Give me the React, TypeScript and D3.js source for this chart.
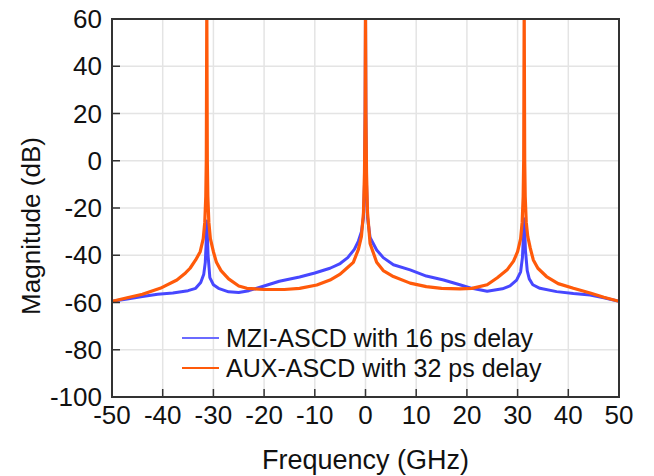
import React from "react";
import * as d3 from "d3";

// Frequency (GHz) / magnitude (dB)
const mziFreq = [-50, -47, -44, -41, -38, -35, -33.5, -32.5, -31.9, -31.6, -31.45, -31.35, -31.3, -31.2, -31.05, -30.7, -30, -29, -27, -25, -23, -20, -17, -13, -10, -7, -5, -3.5, -2.2, -1.4, -0.8, -0.4, -0.2, -0.08, 0, 0.08, 0.2, 0.4, 0.9, 2.2, 3.5, 5.5, 8.8, 12, 15.4, 18.6, 21, 24, 27, 28.5, 29.8, 30.6, 30.95, 31.15, 31.3, 31.4, 31.55, 31.9, 32.3, 33, 34.4, 37.7, 41, 44.3, 47, 50];
const mziMag = [-59.5, -58.5, -57.5, -56.5, -56, -55, -54, -51.5, -48, -43, -36, -29, -25.5, -31, -40, -49.5, -52.5, -54, -55.5, -55.8, -55, -53, -51, -49.2, -47.5, -45.5, -43.5, -41, -37.5, -34, -30, -24, -10, 20, 65, 20, -10, -24, -32.5, -37.8, -41, -44, -46.2, -48.8, -50.5, -52.5, -54, -55.2, -54.2, -53, -50.5, -47, -41, -32, -24.5, -29, -38, -46.5, -50, -52.5, -54, -55.4, -56.2, -56.8, -58, -59.5];

const auxFreq = [-50, -47, -44, -40.5, -37.2, -35.5, -34.6, -33.5, -32.6, -32, -31.7, -31.5, -31.4, -31.3, -31.2, -31.1, -30.9, -30.6, -30, -29.4, -28.5, -27, -25, -23.4, -20, -16, -13, -9.6, -7, -5, -3.7, -2.4, -1.4, -0.8, -0.4, -0.2, -0.08, 0, 0.08, 0.2, 0.4, 0.9, 2.2, 3.5, 5.5, 8.8, 12, 15, 18.6, 21, 24, 26, 28, 29.2, 30, 30.6, 30.9, 31.1, 31.2, 31.3, 31.4, 31.5, 31.7, 32, 32.5, 33.1, 34, 35.7, 38, 41, 44.3, 47, 50];
const auxMag = [-59.5, -58, -56.5, -54, -50.5, -47.5, -45.5, -42, -38.5, -33, -26, -15, 0, 65, 0, -15, -26, -33, -38.5, -43, -46.5, -50, -53, -54, -54.5, -54.5, -54, -52.6, -50.5, -48, -45.5, -43, -37.5, -32, -22, -5, 20, 65, 20, -5, -22, -35, -43, -46.5, -49, -51.8, -53.3, -54, -54.2, -54, -52.5, -49.5, -46, -42.5, -38.5, -33, -26, -15, 0, 65, 0, -15, -26, -32, -37, -42, -45.5, -49, -52, -54, -56, -57.8, -59.5];

const xTicks = [-50, -40, -30, -20, -10, 0, 10, 20, 30, 40, 50];
const yTicks = [-100, -80, -60, -40, -20, 0, 20, 40, 60];

const legendLabels = ["MZI-ASCD with 16 ps delay", "AUX-ASCD with 32 ps delay"];

const W = 654, H = 476;
const left = 112, right = 619, top = 19, bottom = 397;
const FONT = "'Liberation Sans', Arial, Helvetica, sans-serif";

export default function App() {
  const x = d3.scaleLinear().domain([-50, 50]).range([left, right]);
  const y = d3.scaleLinear().domain([-100, 60]).range([bottom, top]);
  const line = d3.line<[number, number]>().x(d => x(d[0])).y(d => y(d[1]));
  const mzi = mziFreq.map((f, i) => [f, mziMag[i]] as [number, number]);
  const aux = auxFreq.map((f, i) => [f, auxMag[i]] as [number, number]);
  const blue = "#4747ff";
  const orange = "#ff5a0a";
  return (
    <svg width={W} height={H} style={{ position: "absolute", left: 0, top: 0, background: "#fff" }} fontFamily={FONT}>
      <defs>
        <clipPath id="plot">
          <rect x={left} y={top} width={right - left} height={bottom - top} />
        </clipPath>
      </defs>
      {/* grid */}
      {xTicks.slice(1, -1).map(t => (
        <line key={"gx" + t} x1={x(t)} x2={x(t)} y1={top} y2={bottom} stroke="#e4e4e4" strokeWidth={1.5} />
      ))}
      {yTicks.slice(1, -1).map(t => (
        <line key={"gy" + t} x1={left} x2={right} y1={y(t)} y2={y(t)} stroke="#e4e4e4" strokeWidth={1.5} />
      ))}
      {/* curves */}
      <g clipPath="url(#plot)">
        <path d={line(mzi) || ""} fill="none" stroke={blue} strokeWidth={3} strokeLinejoin="round" />
        <path d={line(aux) || ""} fill="none" stroke={orange} strokeWidth={3.2} strokeLinejoin="round" />
      </g>
      {/* ticks (inward) */}
      {xTicks.map(t => (
        <line key={"tx" + t} x1={x(t)} x2={x(t)} y1={bottom} y2={bottom - 8} stroke="#333" strokeWidth={1.5} />
      ))}
      {yTicks.map(t => (
        <line key={"ty" + t} x1={left} x2={left + 8} y1={y(t)} y2={y(t)} stroke="#333" strokeWidth={1.5} />
      ))}
      {/* frame */}
      <rect x={left} y={top} width={right - left} height={bottom - top} fill="none" stroke="#333" strokeWidth={2} />
      {/* tick labels */}
      {xTicks.map(t => (
        <text key={"lx" + t} x={x(t)} y={424} textAnchor="middle" fontSize={26} fill="#111">{t}</text>
      ))}
      {yTicks.map(t => (
        <text key={"ly" + t} x={102} y={y(t)} textAnchor="end" dominantBaseline="central" fontSize={26} fill="#111">{t}</text>
      ))}
      {/* axis titles */}
      <text x={(left + right) / 2} y={469} textAnchor="middle" fontSize={27} fill="#111">Frequency (GHz)</text>
      <text transform={`translate(40,226) rotate(-90)`} textAnchor="middle" fontSize={26} fill="#111">Magnitude (dB)</text>
      {/* legend */}
      {legendLabels.map((lab, i) => (
        <g key={lab}>
          <line x1={182} x2={219} y1={338 + i * 30} y2={338 + i * 30} stroke={i === 0 ? "#6b6bff" : orange} strokeWidth={2} />
          <text x={226} y={338 + i * 30} dominantBaseline="central" fontSize={25} fill="#111">{lab}</text>
        </g>
      ))}
    </svg>
  );
}
